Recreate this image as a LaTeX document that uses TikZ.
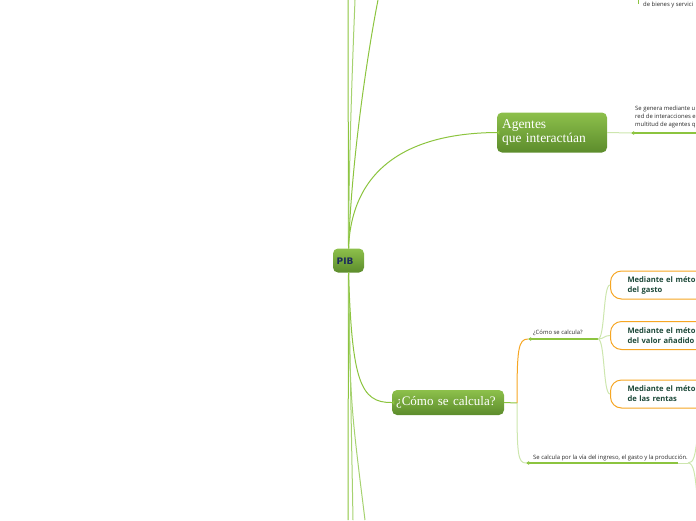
\documentclass[tikz,border=0pt]{standalone}
\usepackage{fontspec}
\usetikzlibrary{arrows.meta}
\newfontfamily\slab{Liberation Serif}
\newfontfamily\osans{Open Sans}
\newfontfamily\dvs{DejaVu Sans}
\definecolor{gA}{HTML}{8CC43F}
\definecolor{gM}{HTML}{A6D270}
\definecolor{gL}{HTML}{CDE6AE}
\definecolor{gTop}{HTML}{8DC04B}
\definecolor{gBot}{HTML}{5C8C2C}
\definecolor{orA}{HTML}{F6A623}
\definecolor{txD}{HTML}{1E4A3A}
\definecolor{navy}{HTML}{1C2C5A}
\definecolor{txG}{HTML}{2A2A2A}
\tikzset{
  mainbox/.style={rounded corners=5pt, top color=gTop, bottom color=gBot, draw=none, text=white, inner sep=0pt},
  obox/.style={rounded corners=11pt, draw=orA, line width=1pt, fill=white, text=txD, inner xsep=17pt, inner ysep=0pt, align=left, anchor=west,
     font=\osans\bfseries\fontsize{7.6}{10}\selectfont, minimum height=28pt, text width=120pt},
  gline/.style={draw=gA, line width=1pt},
  gline2/.style={draw=gM, line width=1pt},
  lline/.style={draw=gL, line width=1pt},
  sm/.style={font=\osans\fontsize{5.9}{8}\selectfont, text=txG, inner sep=0pt, align=left},
  tipstart/.style={{Triangle[length=3pt,width=3.5pt]}-},
}
\begin{document}
\begin{tikzpicture}[x=1pt,y=-1pt]
\useasboundingbox (0,0) rectangle (696,520);
\clip (0,0) rectangle (696,520);

% main nodes
\node[mainbox, minimum width=31pt, minimum height=24pt] (pib) at (348.5,260.5) {};
\node[anchor=west, inner sep=0pt, text=navy, font=\dvs\bfseries\fontsize{9}{10}\selectfont] (pibt) at (336.5,261) {PIB};
\node[mainbox, minimum width=110pt, minimum height=40pt, text width=100pt, align=left,
      font=\slab\fontsize{13.5}{14}\selectfont] (ag) at (552,132.5) {Agentes\\que interactúan};
\node[mainbox, minimum width=112pt, minimum height=25pt, text width=104pt, align=left, font=\slab\fontsize{13}{14}\selectfont] (calc) at (448,402.5) {¿Cómo se calcula?};

% lines from PIB upward
\coordinate (t1) at (348,0);
\coordinate (t2) at (355,0);
\coordinate (t3) at (378,0);
\draw[gline] (pib.north) -- (t1);
\draw[gline2] (pib.north) .. controls (349,150) and (353,50) .. (t2);
\draw[gline] (pib.north) .. controls (352,150) and (370,40) .. (t3);
\draw[gline] (pib.north) .. controls (352,160) and (420,133) .. (ag.west);

% lines from PIB downward
\coordinate (b1) at (348,520);
\coordinate (b2) at (353,520);
\coordinate (b3) at (365,520);
\draw[gline] (pib.south) -- (b1);
\draw[gline2] (pib.south) -- (b2);
\draw[gline2] (pib.south) .. controls (350,400) .. (b3);
\draw[gline] (pib.south) .. controls (352,380) and (360,403) .. (calc.west);

% small tips into nodes
\fill[gA] (ag.west) -- ++(2.5,-2.5) -- ++(0,5) -- cycle;
\fill[gA] (calc.west) -- ++(2.5,-2.5) -- ++(0,5) -- cycle;

% Agentes branch
\coordinate (a1) at (631,133);
\coordinate (a2) at (696,133);
\draw[lline] (ag.east) -- (a1);
\draw[gline, line width=1.5pt, tipstart] (a1) -- (a2);
\node[sm, anchor=north west] (agtx) at (635,106) {Se genera mediante u\\red de interacciones e\\multitud de agentes q};

% top right fragment
\coordinate (tt1) at (638.5,-1);
\coordinate (tt2) at (638.5,3.5);
\draw[gline] (tt1) -- (tt2);
\node[sm, anchor=west] (toptx) at (643,4.5) {de bienes y servici};

% calc branches
\coordinate (j) at (517,403);
\coordinate (q1) at (528,339);
\coordinate (h1) at (598,339);
\coordinate (q2) at (526,463);
\coordinate (h2) at (678,463);
\coordinate (h3) at (688,463);
\coordinate (e1) at (697,440);
\coordinate (e2) at (697,495);
\draw[gline] (calc.east) -- (j);
\draw[draw=orA, line width=1pt] (j) .. controls (517,350) and (518,339) .. (q1);
\draw[lline] (j) .. controls (517,455) and (518,463) .. (q2);
\draw[gline, line width=1.5pt, tipstart] (q1) -- (h1);
\node[sm, anchor=south west] (lab1) at (533,336) {¿Cómo se calcula?};
\draw[gline, line width=1.5pt, tipstart] (q2) -- (h2);
\draw[lline] (h2) -- (h3);
\draw[lline] (h3) .. controls (694,463) and (695,455) .. (e1);
\draw[lline] (h3) .. controls (694,463) and (695,475) .. (e2);
\node[sm, anchor=south west] (lab2) at (533,461) {Se calcula por la vía del ingreso, el gasto y la producción.};

% orange boxes
\node[obox] (m1) at (610,285) {Mediante el méto\\del gasto};
\node[obox] (m2) at (610,335.5) {Mediante el méto\\del valor añadido};
\node[obox] (m3) at (610,394) {Mediante el méto\\de las rentas};
\draw[lline] (h1) .. controls (605,339) and (603,285) .. (m1.west);
\draw[lline] (h1) .. controls (604,339) and (604,335.5) .. (m2.west);
\draw[lline] (h1) .. controls (605,339) and (603,394) .. (m3.west);
\end{tikzpicture}
\end{document}
